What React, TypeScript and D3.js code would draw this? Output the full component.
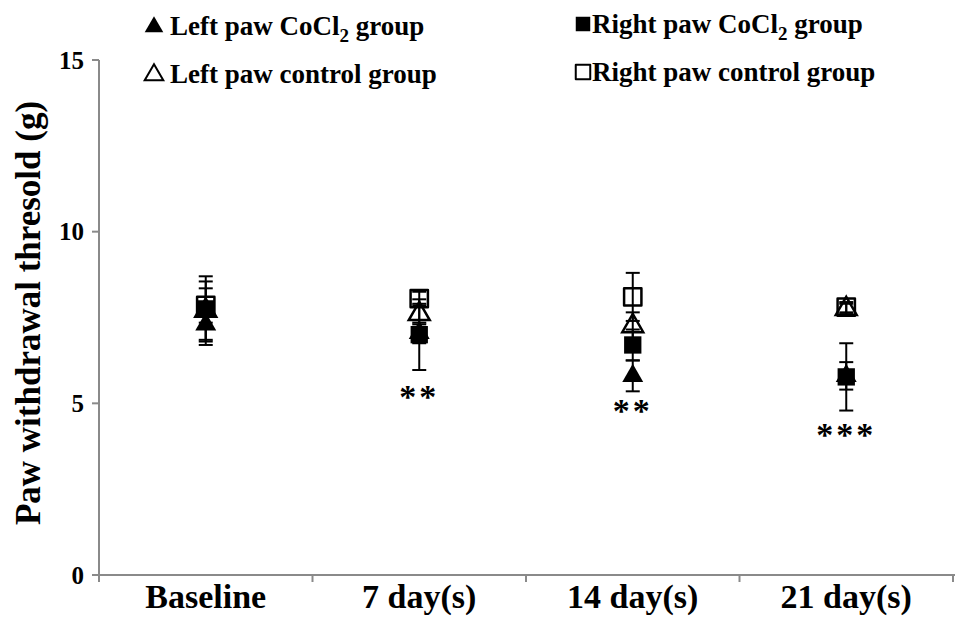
import React from "react";
import * as d3 from "d3";

const categories = ["Baseline", "7 day(s)", "14 day(s)", "21 day(s)"];
const yTicks = [0, 5, 10, 15];

const leftCoCl2 = [7.3, 7.05, 5.8, 5.8];
const leftCoCl2Err = [0.6, 0.3, 0.45, 0.4];
const rightCoCl2 = [7.75, 7.0, 6.7, 5.77];
const rightCoCl2Err = [0.95, 1.03, 0.45, 0.98];
const leftControl = [7.7, 7.6, 7.25, 7.75];
const leftControlErr = [0.85, 0.3, 0.4, 0.15];
const rightControl = [7.85, 8.05, 8.1, 7.8];
const rightControlErr = [0.5, 0.2, 0.7, 0.15];

const stars = ["", "**", "**", "***"];
const starValues = [0, 5.3, 4.9, 4.2];

const legendLabels = ["Left paw CoCl", "Left paw control group", "Right paw CoCl", "Right paw control group"];

const W = 969;
const H = 630;
const FONT = "'Liberation Serif', 'Times New Roman', serif";

export default function App() {
  const x = d3.scaleBand().domain(categories).range([99, 953]).padding(0);
  const y = d3.scaleLinear().domain([0, 15]).range([575, 60]);
  const cx = (c: string) => (x(c) as number) + x.bandwidth() / 2;

  const tri = d3.symbol().type(d3.symbolTriangle).size(190)() as string;
  const sq = d3.symbol().type(d3.symbolSquare).size(300)() as string;
  const triL = d3.symbol().type(d3.symbolTriangle).size(150)() as string;
  const sqL = d3.symbol().type(d3.symbolSquare).size(210)() as string;

  const series = [
    { vals: leftCoCl2, err: leftCoCl2Err },
    { vals: rightCoCl2, err: rightCoCl2Err },
    { vals: leftControl, err: leftControlErr },
    { vals: rightControl, err: rightControlErr },
  ];

  const cap = 7;

  return (
    <div style={{ position: "fixed", left: 0, top: 0, width: W, height: H, background: "#fff" }}>
      <svg width={W} height={H} style={{ display: "block" }} fontFamily={FONT}>
        <rect width={W} height={H} fill="#fff" />
        {/* axes */}
        <line x1={99} x2={99} y1={y(15)} y2={y(0)} stroke="#8a8a8a" strokeWidth={2} />
        <line x1={92} x2={955} y1={y(0)} y2={y(0)} stroke="#8a8a8a" strokeWidth={2} />
        {yTicks.map((t) => (
          <g key={t}>
            <line x1={92} x2={99} y1={y(t)} y2={y(t)} stroke="#8a8a8a" strokeWidth={2} />
            <text x={84} y={y(t)} dy="0.35em" textAnchor="end" fontSize={25} fontWeight="bold">
              {t}
            </text>
          </g>
        ))}
        {[...categories.map((c) => x(c) as number), 953].map((p, i) => (
          <line key={i} x1={p} x2={p} y1={y(0)} y2={y(0) + 7} stroke="#8a8a8a" strokeWidth={2} />
        ))}
        {categories.map((c) => (
          <text key={c} x={cx(c)} y={608} textAnchor="middle" fontSize={34} fontWeight="bold">
            {c}
          </text>
        ))}
        <text
          transform={`translate(40,${313}) rotate(-90)`}
          textAnchor="middle"
          fontSize={35}
          fontWeight="bold"
        >
          Paw withdrawal thresold (g)
        </text>

        {/* error bars */}
        {series.map((s, si) =>
          categories.map((c, i) => {
            const px = cx(c);
            const top = y(s.vals[i] + s.err[i]);
            const bot = y(s.vals[i] - s.err[i]);
            return (
              <g key={`${si}-${i}`} stroke="#000" strokeWidth={2}>
                <line x1={px} x2={px} y1={top} y2={bot} />
                <line x1={px - cap} x2={px + cap} y1={top} y2={top} />
                <line x1={px - cap} x2={px + cap} y1={bot} y2={bot} />
              </g>
            );
          })
        )}

        {/* markers */}
        {categories.map((c, i) => (
          <path key={`lc${i}`} d={tri} transform={`translate(${cx(c)},${y(leftCoCl2[i])})`} fill="#000" />
        ))}
        {categories.map((c, i) => (
          <path key={`rc${i}`} d={sq} transform={`translate(${cx(c)},${y(rightCoCl2[i])})`} fill="#000" />
        ))}
        {categories.map((c, i) => (
          <path
            key={`lk${i}`}
            d={tri}
            transform={`translate(${cx(c)},${y(leftControl[i])})`}
            fill="none"
            stroke="#000"
            strokeWidth={2.5}
          />
        ))}
        {categories.map((c, i) => (
          <path
            key={`rk${i}`}
            d={sq}
            transform={`translate(${cx(c)},${y(rightControl[i])})`}
            fill="none"
            stroke="#000"
            strokeWidth={2.5}
            strokeLinejoin="round"
          />
        ))}

        {/* significance stars */}
        {categories.map((c, i) =>
          stars[i] ? (
            <text
              key={`s${i}`}
              x={cx(c)}
              y={y(starValues[i]) + 15}
              textAnchor="middle"
              fontSize={34}
              fontWeight="bold"
              letterSpacing={3}
            >
              {stars[i]}
            </text>
          ) : null
        )}

        {/* legend */}
        <g fontSize={27} fontWeight="bold">
          <path d={triL} transform="translate(154,27)" fill="#000" />
          <text x={170} y={35}>
            {legendLabels[0]}
            <tspan fontSize={19} dy={7}>2</tspan>
            <tspan dy={-7}> group</tspan>
          </text>
          <path d={triL} transform="translate(154,75)" fill="none" stroke="#000" strokeWidth={2} />
          <text x={170} y={83}>{legendLabels[1]}</text>
          <path d={sqL} transform="translate(583,24)" fill="#000" />
          <text x={592} y={33}>
            {legendLabels[2]}
            <tspan fontSize={19} dy={7}>2</tspan>
            <tspan dy={-7}> group</tspan>
          </text>
          <path
            d={sqL}
            transform="translate(583,72)"
            fill="none"
            stroke="#000"
            strokeWidth={2}
            strokeLinejoin="round"
          />
          <text x={592} y={81}>{legendLabels[3]}</text>
        </g>
      </svg>
    </div>
  );
}
